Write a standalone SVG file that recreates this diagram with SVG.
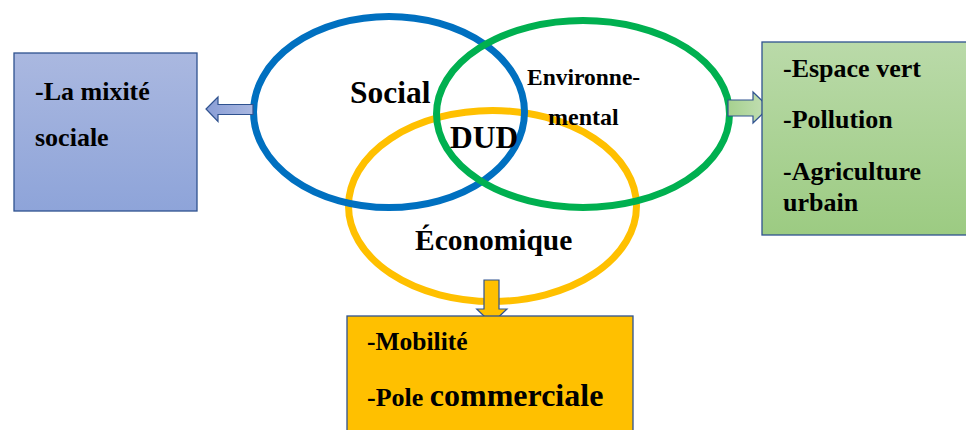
<svg xmlns="http://www.w3.org/2000/svg" width="966" height="430" viewBox="0 0 966 430">
<defs>
<linearGradient id="gBlue" x1="0" y1="0" x2="0" y2="1"><stop offset="0" stop-color="#AAB8E0"/><stop offset="1" stop-color="#8EA4D9"/></linearGradient>
<linearGradient id="gGreen" x1="0" y1="0" x2="0" y2="1"><stop offset="0" stop-color="#BADAA9"/><stop offset="1" stop-color="#9CCB82"/></linearGradient>
<linearGradient id="gArrB" x1="0" y1="0" x2="1" y2="0"><stop offset="0" stop-color="#8A9ED6"/><stop offset="1" stop-color="#A9B7E0"/></linearGradient>
<linearGradient id="gArrG" x1="0" y1="0" x2="1" y2="0"><stop offset="0" stop-color="#A6D18F"/><stop offset="1" stop-color="#C4DFB6"/></linearGradient>
<style>
text{font-family:"Liberation Serif","Times New Roman",serif;font-weight:bold;fill:#000}
.box{stroke:#2F528F;stroke-width:1.3}
.ring{fill:none;stroke-width:7}
.arr{stroke:#2F528F;stroke-width:1.2;stroke-linejoin:miter}
</style>
</defs>
<rect width="966" height="430" fill="#fff"/>
<g id="venn">
<ellipse id="economique" cx="492.5" cy="206" rx="144" ry="95.5" class="ring" stroke="#FFC000"/>
<ellipse id="social" cx="389" cy="112" rx="135.5" ry="95.5" class="ring" stroke="#0070C0"/>
<ellipse id="environnemental" cx="583" cy="114" rx="146.5" ry="93.5" class="ring" stroke="#00B050"/>
<text x="350" y="103" font-size="31.5">Social</text>
<text x="450" y="148" font-size="31.5">DUD</text>
<text x="527" y="85" font-size="23.5">Environne-</text>
<text x="548" y="125" font-size="24">mental</text>
<text x="415" y="250" font-size="29.5">Économique</text>
</g>
<g id="connectors">
<polygon class="arr" fill="url(#gArrB)" points="253,104.5 218,104.5 218,97 206,109 218,121.5 218,114.5 253,114.5"/>
<polygon class="arr" fill="url(#gArrG)" points="728,100 753,100 753,92 769,107.5 753,123 753,116 728,116"/>
<polygon class="arr" fill="#FFC000" points="484,280 499,280 499,309 507,309 491.7,323.5 476.7,309 484,309"/>
</g>
<g id="box-social">
<rect class="box" x="14" y="53" width="183" height="158" fill="url(#gBlue)"/>
<text x="35" y="99.5" font-size="26">-La mixité</text>
<text x="35" y="146" font-size="26">sociale</text>
</g>
<g id="box-environnement">
<rect class="box" x="762" y="42" width="210" height="193" fill="url(#gGreen)"/>
<text x="783" y="77" font-size="26">-Espace vert</text>
<text x="783" y="128" font-size="26">-Pollution</text>
<text x="783" y="180" font-size="26">-Agriculture</text>
<text x="783" y="211" font-size="26">urbain</text>
</g>
<g id="box-economique">
<rect class="box" x="347" y="316" width="286" height="120" fill="#FFC000"/>
<text x="367" y="350" font-size="25.5">-Mobilité</text>
<text x="367" y="406"><tspan font-size="26">-Pole </tspan><tspan font-size="32">commerciale</tspan></text>
</g>
</svg>
